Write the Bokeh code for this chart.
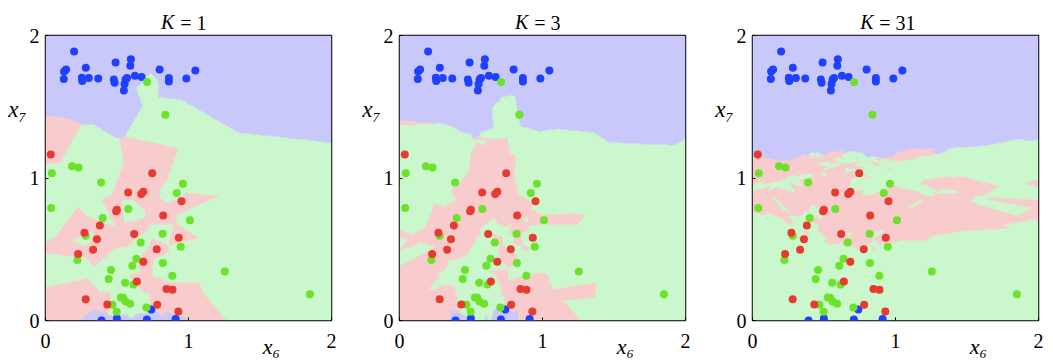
import numpy as np
from bokeh.plotting import figure
from bokeh.layouts import row
from bokeh.models import LinearAxis, FixedTicker, CustomJSTickFormatter
from bokeh.embed import file_html
from bokeh.resources import INLINE

# ---- data (x6, x7) ----
blue_x6 = [0.200, 0.130, 0.144, 0.128, 0.282, 0.254, 0.257, 0.303, 0.369, 0.490,
           0.597, 0.593, 0.478, 0.483, 0.560, 0.570, 0.548, 0.553, 0.625, 0.672,
           0.798, 0.863, 0.863, 0.985, 1.048, 0.392, 0.499, 0.709, 0.740, 0.910]
blue_x7 = [1.888, 1.747, 1.761, 1.694, 1.773, 1.703, 1.680, 1.701, 1.698, 1.811,
           1.834, 1.787, 1.691, 1.668, 1.691, 1.701, 1.614, 1.660, 1.717, 1.708,
           1.761, 1.701, 1.677, 1.698, 1.754, 0.000, 0.014, 0.007, 0.077, 0.010]

red_x6 = [0.037, 0.746, 0.578, 0.684, 0.669, 0.951, 0.499, 0.494, 0.823, 0.380,
          0.272, 0.620, 0.932, 0.360, 0.333, 0.778, 0.228, 0.684, 0.639, 0.846,
          0.888, 0.281, 0.432, 0.781, 0.929]
red_x7 = [1.165, 1.034, 0.898, 0.903, 0.887, 0.837, 0.777, 0.767, 0.736, 0.667,
          0.615, 0.607, 0.580, 0.570, 0.496, 0.500, 0.466, 0.412, 0.274, 0.221,
          0.215, 0.150, 0.113, 0.111, 0.064]

green_x6 = [0.044, 0.185, 0.231, 0.389, 0.961, 0.918, 0.040, 0.579, 0.400, 1.010,
            0.281, 0.819, 0.666, 0.946, 0.223, 0.636, 0.607, 0.821, 0.458, 0.442,
            0.557, 0.616, 0.887, 0.527, 0.543, 0.560, 0.592, 0.468, 0.498, 0.706,
            0.710, 0.838, 1.254, 1.849]
green_x7 = [1.034, 1.082, 1.073, 0.968, 0.959, 0.894, 0.789, 0.783, 0.720, 0.704,
            0.594, 0.609, 0.548, 0.518, 0.424, 0.433, 0.385, 0.404, 0.355, 0.292,
            0.265, 0.253, 0.314, 0.162, 0.160, 0.133, 0.117, 0.111, 0.062, 0.092,
            1.673, 1.443, 0.344, 0.185]

k_values = [1, 3, 31]
tick_labels = ["0", "1", "2"]
x_label = "x₆"
y_label = "x₇"

# ---- colours ----
bg_rgb = [(200, 200, 250), (248, 204, 204), (202, 247, 204)]   # blue, red, green regions
pt_col = ["#2040ff", "#e83a30", "#6ce22a"]

X = np.concatenate([blue_x6, red_x6, green_x6])
Y = np.concatenate([blue_x7, red_x7, green_x7])
C = np.concatenate([np.zeros(len(blue_x6), int), np.ones(len(red_x6), int),
                    np.full(len(green_x6), 2)])

NX, NY = 286, 285
gx = (np.arange(NX) + 0.5) / NX * 2
gy = (np.arange(NY) + 0.5) / NY * 2
GX, GY = np.meshgrid(gx, gy)
D = (GX[..., None] - X) ** 2 + (GY[..., None] - Y) ** 2
order = np.argsort(D, axis=-1)


def knn_image(k):
    nn = C[order[..., :k]]
    counts = np.stack([(nn == c).sum(-1) for c in range(3)], -1)
    best = counts.max(-1)
    lab = np.zeros(best.shape, int)
    done = np.zeros(best.shape, bool)
    # majority vote; ties go to the nearest of the tied classes
    for j in range(k):
        cj = nn[..., j]
        tied = np.take_along_axis(counts, cj[..., None], -1)[..., 0] == best
        mask = tied & ~done
        lab = np.where(mask, cj, lab)
        done |= mask
    img = np.zeros((NY, NX, 4), dtype=np.uint8)
    for c in range(3):
        img[lab == c, :3] = bg_rgb[c]
    img[..., 3] = 255
    return img.view(np.uint32)[..., 0]


SERIF = "Liberation Serif"


def text_axis(tick, label, style, size, standoff):
    ax = LinearAxis(ticker=FixedTicker(ticks=[tick]),
                    formatter=CustomJSTickFormatter(code=f"return '{label}'"))
    ax.axis_line_color = None
    ax.major_tick_line_color = None
    ax.major_tick_in = 0
    ax.major_tick_out = 0
    ax.minor_tick_line_color = None
    ax.major_label_text_font = SERIF
    ax.major_label_text_font_style = style
    ax.major_label_text_font_size = size
    ax.major_label_text_color = "black"
    ax.major_label_standoff = standoff
    return ax


borders = [(45, 23), (45, 22), (45, 5)]
figs = []
for i, k in enumerate(k_values):
    lb, rb = borders[i]
    p = figure(frame_width=286, frame_height=285, x_range=(0, 2), y_range=(0, 2),
               output_backend="svg", toolbar_location=None,
               min_border_left=lb, min_border_right=rb, min_border_top=35,
               min_border_bottom=20)
    p.image_rgba(image=[knn_image(k)], x=0, y=0, dw=2, dh=2)
    for xs, ys, col in [(blue_x6, blue_x7, pt_col[0]), (green_x6, green_x7, pt_col[2]),
                        (red_x6, red_x7, pt_col[1])]:
        p.scatter(xs, ys, size=8, color=col, line_color=None)
    p.grid.visible = False
    p.outline_line_color = "black"
    p.outline_line_width = 1.5
    for ax in (p.xaxis[0], p.yaxis[0]):
        ax.ticker = [0, 1, 2]
        ax.major_label_overrides = {0: tick_labels[0], 1: tick_labels[1], 2: tick_labels[2]}
        ax.axis_line_color = None
        ax.major_tick_in = 3
        ax.major_tick_out = 0
        ax.minor_tick_line_color = None
        ax.major_label_text_font = SERIF
        ax.major_label_text_font_size = "20px"
        ax.major_label_text_color = "black"
    p.xaxis.major_label_standoff = 13
    p.yaxis.major_label_standoff = 6
    p.background_fill_color = "white"
    p.border_fill_color = "white"

    # axis labels placed where the reference has them
    p.add_layout(text_axis(1.48, y_label, "italic", "23px", 0), "left")
    p.add_layout(text_axis(1.58, x_label, "italic", "22px", -17), "below")

    # title  "K = n" : italic K, upright "= n"
    rest = f"= {k}"
    nd = len(str(k))
    xk = 0.91 - 0.055 * nd
    w_rest = 26 + 10 * (nd - 1)
    xr = xk + (6.5 + 6 + w_rest / 2) / 143
    p.add_layout(text_axis(xr, rest, "normal", "20px", 2), "above")
    p.add_layout(text_axis(xk, "K", "italic", "20px", -24), "above")
    figs.append(p)

layout = row(*figs)
open("out.html", "w").write(file_html(layout, INLINE))
